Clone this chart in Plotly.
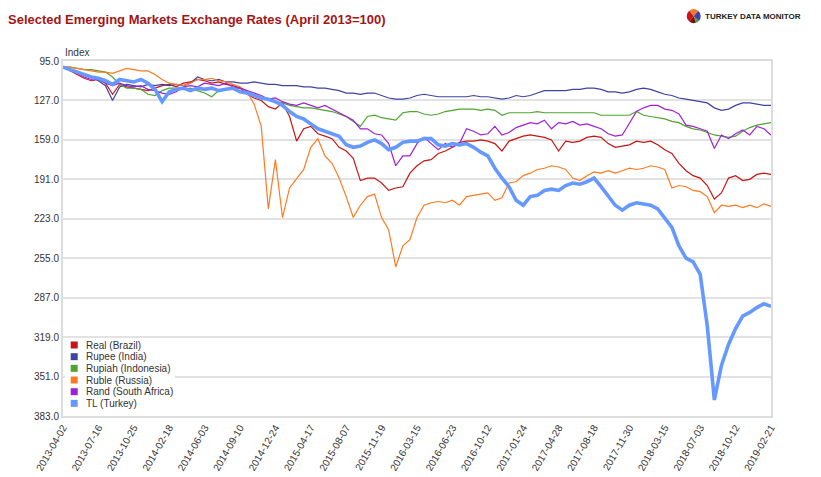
import plotly.graph_objects as go

# ---------------- data ----------------
tick_dates = ["2013-04-02", "2013-07-16", "2013-10-25", "2014-02-18", "2014-06-03",
              "2014-09-10", "2014-12-24", "2015-04-17", "2015-08-07", "2015-11-19",
              "2016-03-15", "2016-06-23", "2016-10-12", "2017-01-24", "2017-04-28",
              "2017-08-18", "2017-11-30", "2018-03-15", "2018-07-03", "2018-10-12",
              "2019-02-21"]

series_names = ["Real (Brazil)", "Rupee (India)", "Rupiah (Indonesia)",
                "Ruble (Russia)", "Rand (South Africa)", "TL (Turkey)"]

real = [100, 103, 106, 109, 111, 110, 113, 122, 114, 116,
        117, 118, 119, 117, 115, 114, 116, 113, 112, 110,
        111, 113, 112, 114, 115, 117, 122, 125, 127, 132,
        134, 129, 140, 160, 150, 148, 154, 156, 158, 165,
        168, 174, 192, 190, 190, 194, 200, 198, 197, 186,
        180, 176, 175, 170, 168, 165, 161, 160, 160, 159,
        160, 162, 168, 160, 158, 156, 155, 156, 157, 159,
        168, 160, 161, 160, 157, 156, 157, 162, 165, 164,
        163, 160, 161, 160, 163, 167, 170, 178, 184, 188,
        190, 196, 207, 202, 190, 188, 192, 191, 187, 186, 187]

rupee = [100, 102, 104, 106, 108, 111, 115, 127, 116, 114,
         115, 116, 114, 115, 114, 115, 114, 115, 113, 108,
         110, 111, 110, 112, 112, 113, 113, 112, 113, 114,
         114, 115, 115, 115, 116, 116, 117, 117, 118, 119,
         121, 121, 122, 121, 121, 123, 125, 126, 126, 125,
         123, 122, 123, 124, 124, 124, 124, 124, 123, 124,
         124, 125, 126, 125, 123, 124, 123, 121, 119, 119,
         119, 119, 118, 118, 117, 117, 118, 120, 120, 121,
         120, 118, 117, 118, 120, 122, 123, 125, 126, 127,
         128, 129, 133, 135, 134, 131, 129, 129, 130, 131, 131]

rupiah = [100, 100, 101, 102, 102, 103, 104, 108, 114, 117,
          117, 118, 122, 123, 119, 117, 117, 118, 117, 119,
          121, 124, 119, 118, 117, 117, 120, 123, 125, 126,
          128, 129, 131, 132, 133, 133, 134, 135, 136, 138,
          140, 144, 148, 140, 139, 141, 142, 143, 137, 136,
          136, 138, 139, 138, 136, 135, 134, 134, 134, 135,
          134, 135, 139, 137, 137, 137, 137, 136, 137, 137,
          137, 137, 137, 137, 137, 137, 139, 139, 139, 139,
          139, 136, 139, 140, 141, 142, 144, 145, 148, 150,
          151, 153, 155, 156, 157, 156, 152, 149, 147, 146, 145]

ruble = [100, 100, 101, 102, 103, 104, 104, 105, 103, 101,
         102, 103, 103, 106, 110, 113, 114, 115, 113, 110,
         110, 109, 111, 112, 114, 116, 120, 130, 148, 215,
         175, 222, 198, 190, 183, 165, 158, 172, 178, 190,
         205, 222, 212, 205, 203, 222, 232, 262, 245, 240,
         222, 212, 210, 209, 210, 208, 212, 205, 204, 203,
         202, 208, 206, 194, 193, 188, 186, 183, 182, 180,
         181, 183, 190, 192, 188, 185, 186, 184, 186, 184,
         182, 183, 182, 180, 181, 183, 198, 196, 197, 200,
         201, 205, 218, 212, 213, 212, 214, 212, 214, 211, 213]

rand = [100, 102, 105, 108, 110, 109, 113, 115, 113, 115,
        116, 115, 118, 119, 121, 122, 120, 116, 115, 116,
        113, 114, 115, 113, 116, 117, 119, 121, 123, 126,
        125, 128, 130, 131, 129, 131, 133, 131, 134, 137,
        140, 143, 150, 150, 154, 155, 162, 180, 172, 172,
        162, 157, 162, 167, 162, 165, 162, 150, 152, 155,
        154, 148, 155, 153, 149, 147, 145, 146, 143, 150,
        145, 146, 144, 147, 146, 148, 150, 154, 156, 155,
        145, 136, 133, 131, 131, 134, 135, 138, 147, 148,
        150, 152, 166, 155, 158, 154, 151, 155, 148, 150, 155]

tl = [100, 102, 104, 106, 108, 109, 111, 114, 110, 111,
      112, 110, 113, 118, 128, 120, 118, 117, 119, 117,
      118, 117, 119, 118, 117, 120, 121, 123, 125, 126,
      128, 131, 136, 140, 142, 146, 150, 152, 154, 156,
      163, 165, 164, 161, 159, 162, 167, 165, 161, 160,
      160, 158, 158, 163, 164, 162, 163, 162, 165, 169,
      172, 182, 190, 197, 208, 212, 205, 204, 200, 199,
      200, 196, 194, 195, 193, 190, 197, 205, 212, 216,
      212, 210, 211, 212, 215, 222, 230, 245, 255, 258,
      268, 310, 370, 342, 325, 312, 302, 299, 295, 292, 294]

series_values = [real, rupee, rupiah, ruble, rand, tl]
series_colors = ["#c81414", "#3f43a3", "#4ea52e", "#ff7a21", "#a020d8", "#6699ff"]
series_widths = [1.2, 1.2, 1.2, 1.2, 1.2, 3.6]

y_ticks = [95, 127, 159, 191, 223, 255, 287, 319, 351, 383]

# trading-time position of each sample (5 samples per tick interval)
sample_pos = [i / 5 for i in range(len(tl))]

W, H = 821, 477
PL, PR, PT, PB = 63, 771, 61, 416  # plot box in pixels


def px(x):
    return x / W


def py(y):
    return 1 - y / H


fig = go.Figure()
for name, vals, col, lw in zip(series_names, series_values, series_colors, series_widths):
    fig.add_trace(go.Scatter(x=sample_pos, y=vals, mode="lines", name=name,
                             line=dict(color=col, width=lw), showlegend=False))

# little logo pie
fig.add_trace(go.Pie(values=[22, 26, 8, 16, 28], marker=dict(colors=["#f07a2a", "#3f43a3", "#4ea52e", "#7a1010", "#c81414"]),
                     textinfo="none", hoverinfo="skip", sort=False, direction="clockwise", rotation=-40,
                     showlegend=False, domain=dict(x=[px(686.7), px(700.7)], y=[py(23.3), py(9)])))

fig.update_layout(
    width=W, height=H, template="none",
    paper_bgcolor="white", plot_bgcolor="white",
    margin=dict(l=0, r=0, t=0, b=0),
    showlegend=False,
    font=dict(family="Liberation Sans, Arial, sans-serif", size=10, color="#333333"),
    xaxis=dict(domain=[px(PL), px(PR)], range=[0, 20], tickmode="array",
               tickvals=list(range(len(tick_dates))), ticktext=tick_dates,
               tickangle=-60, showgrid=False, zeroline=False, ticks="",
               showline=True, mirror=True, linecolor="#dddddd", linewidth=2,
               tickfont=dict(size=10, color="#333333"), automargin=False),
    yaxis=dict(domain=[py(PB), py(PT)], range=[383, 95], tickmode="array",
               tickvals=y_ticks, ticktext=[f"{v:.1f}" for v in y_ticks],
               showgrid=True, gridcolor="#e2e2e2", gridwidth=2, zeroline=False, ticks="",
               showline=True, mirror=True, linecolor="#dddddd", linewidth=2,
               tickfont=dict(size=10, color="#333333"), automargin=False),
)

annotations = [
    dict(text="Selected Emerging Markets Exchange Rates (April 2013=100)", x=px(6), y=py(19),
         xref="paper", yref="paper", xanchor="left", yanchor="middle", showarrow=False,
         font=dict(size=13, color="#a31515", family="Liberation Sans, Arial, sans-serif", weight="bold")),
    dict(text="Index", x=px(63), y=py(52), xref="paper", yref="paper", xanchor="left",
         yanchor="middle", showarrow=False, font=dict(size=10, color="#333333")),
    dict(text="TURKEY DATA MONITOR", x=px(702.5), y=py(16), xref="paper", yref="paper",
         xanchor="left", yanchor="middle", showarrow=False,
         font=dict(size=8, color="#222222", family="Liberation Sans, Arial, sans-serif", weight="bold")),
]

shapes = [dict(type="rect", xref="paper", yref="paper", x0=px(65), x1=px(175), y0=py(413), y1=py(339),
               fillcolor="white", line=dict(width=0), layer="above")]

for k, (name, col) in enumerate(zip(series_names, series_colors)):
    cy = 345 + 11.67 * k
    shapes.append(dict(type="rect", xref="paper", yref="paper", x0=px(70.7), x1=px(77.7),
                       y0=py(cy + 3.5), y1=py(cy - 3.5), fillcolor=col, line=dict(width=0), layer="above"))
    annotations.append(dict(text=name, x=px(83.5), y=py(cy), xref="paper", yref="paper",
                            xanchor="left", yanchor="middle", showarrow=False,
                            font=dict(size=10, color="#333333")))

fig.update_layout(annotations=annotations, shapes=shapes)
fig.write_html("out.html")
